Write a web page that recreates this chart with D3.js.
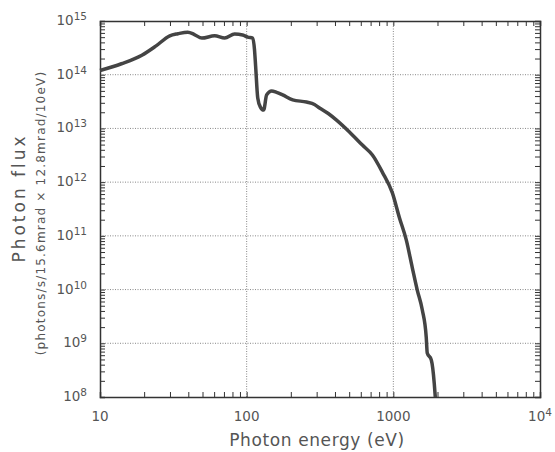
<!DOCTYPE html>
<html>
<head>
<meta charset="utf-8">
<script src="https://cdn.jsdelivr.net/npm/d3@7"></script>
<style>
  body { margin: 0; background: #fff; }
  text { font-family: "DejaVu Sans", sans-serif; fill: #555; }
</style>
</head>
<body>
<div id="chart"></div>
<script>
// photon energy (eV) and flux
var energy = [10, 14, 19.3, 24, 29.9, 34, 39.7, 44, 49.5, 60.5, 70.8, 82.8, 93.9, 101.6, 110, 113, 115, 119, 124, 130.5, 136.8, 148, 160, 176, 206, 256, 290, 314, 360, 410, 502, 615, 720, 841, 985, 1099, 1225, 1345, 1456, 1575, 1676, 1703, 1815, 1901, 1932];
var flux = [1.2e14, 1.6e14, 2.3e14, 3.4e14, 5.3e14, 5.8e14, 6.2e14, 5.6e14, 4.8e14, 5.3e14, 4.8e14, 5.7e14, 5.5e14, 5.0e14, 4.8e14, 3.0e14, 1.5e14, 3.7e13, 2.5e13, 2.2e13, 4.2e13, 5.0e13, 4.7e13, 4.2e13, 3.4e13, 3.1e13, 2.8e13, 2.4e13, 1.9e13, 1.43e13, 8.6e12, 4.9e12, 3.2e12, 1.54e12, 6.3e11, 2.2e11, 8.4e10, 2.6e10, 9.8e9, 4.2e9, 1.3e9, 6.6e8, 4.9e8, 1.8e8, 1.0e8];

var xTicks = [10, 100, 1000, 10000];
var xTickLabels = ["10", "100", "1000", "10^4"];
var yTicks = [1e8, 1e9, 1e10, 1e11, 1e12, 1e13, 1e14, 1e15];

var margin = {top: 21, right: 15, bottom: 55, left: 100},
  width = 555 - margin.left - margin.right,
  height = 452 - margin.top - margin.bottom;

var svg = d3.select("#chart")
  .append("svg")
  .attr("width", 555)
  .attr("height", 452);

var g = svg.append("g")
  .attr("transform", "translate(" + margin.left + "," + margin.top + ")");

var x = d3.scaleLog().domain([10, 10000]).range([0, width]);
var y = d3.scaleLog().domain([1e8, 1e15]).range([height, 0]);

// minor tick positions
var xMinor = [], yMinor = [];
[10, 100, 1000].forEach(function(d) { for (var k = 2; k < 10; k++) xMinor.push(d * k); });
yTicks.slice(0, -1).forEach(function(d) { for (var k = 2; k < 10; k++) yMinor.push(d * k); });

// grid
g.selectAll(".gx").data(xTicks.slice(1, -1)).enter().append("line")
  .attr("x1", function(d) { return x(d); }).attr("x2", function(d) { return x(d); })
  .attr("y1", 0).attr("y2", height)
  .style("stroke", "#888").style("stroke-width", 1).style("stroke-dasharray", "1,1.5");
g.selectAll(".gy").data(yTicks.slice(1, -1)).enter().append("line")
  .attr("y1", function(d) { return y(d); }).attr("y2", function(d) { return y(d); })
  .attr("x1", 0).attr("x2", width)
  .style("stroke", "#888").style("stroke-width", 1).style("stroke-dasharray", "1,1.5");

// axes, ticks inside on all four sides
function fmt() { return ""; }
g.append("g").attr("transform", "translate(0," + height + ")")
  .call(d3.axisTop(x).tickValues(xTicks.concat(xMinor)).tickSize(5).tickFormat(fmt));
g.append("g")
  .call(d3.axisBottom(x).tickValues(xTicks.concat(xMinor)).tickSize(5).tickFormat(fmt));
g.append("g")
  .call(d3.axisRight(y).tickValues(yTicks.concat(yMinor)).tickSize(5).tickFormat(fmt));
g.append("g").attr("transform", "translate(" + width + ",0)")
  .call(d3.axisLeft(y).tickValues(yTicks.concat(yMinor)).tickSize(5).tickFormat(fmt));
g.selectAll(".domain").style("stroke", "#333").style("stroke-width", 1.5);
g.selectAll(".tick line").style("stroke", "#333").style("stroke-width", 1);

// x tick labels
g.selectAll(".xl").data(xTicks).enter().append("text")
  .attr("x", function(d) { return x(d); })
  .attr("y", height + 24)
  .attr("text-anchor", "middle")
  .style("font-size", "13.5px")
  .each(function(d, i) {
    var lab = xTickLabels[i];
    var t = d3.select(this);
    if (lab.indexOf("^") > 0) {
      var p = lab.split("^");
      t.append("tspan").text(p[0]);
      t.append("tspan").attr("dy", -5).style("font-size", "10.5px").text(p[1]);
    } else {
      t.text(lab);
    }
  });

// y tick labels 10^n
g.selectAll(".yl").data(yTicks).enter().append("text")
  .attr("x", -13)
  .attr("y", function(d) { return y(d) + 4; })
  .attr("text-anchor", "end")
  .style("font-size", "13.5px")
  .each(function(d) {
    var t = d3.select(this);
    t.append("tspan").text("10");
    t.append("tspan").attr("dy", -5).style("font-size", "10.5px").text(Math.round(Math.log10(d)));
  });

// axis titles
svg.append("text")
  .attr("x", 317)
  .attr("y", 446)
  .attr("text-anchor", "middle")
  .style("font-size", "17px")
  .style("letter-spacing", "0.6px")
  .text("Photon energy (eV)");

svg.append("text")
  .attr("transform", "translate(25,198) rotate(-90)")
  .attr("text-anchor", "middle")
  .style("font-size", "17px")
  .style("letter-spacing", "3px")
  .text("Photon flux");
svg.append("text")
  .attr("transform", "translate(45,213) rotate(-90)")
  .attr("text-anchor", "middle")
  .style("font-size", "12px")
  .style("letter-spacing", "1.2px")
  .text("(photons/s/15.6mrad \u00d7 12.8mrad/10eV)");

// flux curve
var line = d3.line()
  .x(function(d, i) { return x(energy[i]); })
  .y(function(d) { return y(d); })
  .curve(d3.curveMonotoneX);
g.append("path")
  .datum(flux)
  .attr("d", line)
  .style("fill", "none")
  .style("stroke", "#444")
  .style("stroke-width", 3.5)
  .style("stroke-linejoin", "round");
</script>
</body>
</html>
